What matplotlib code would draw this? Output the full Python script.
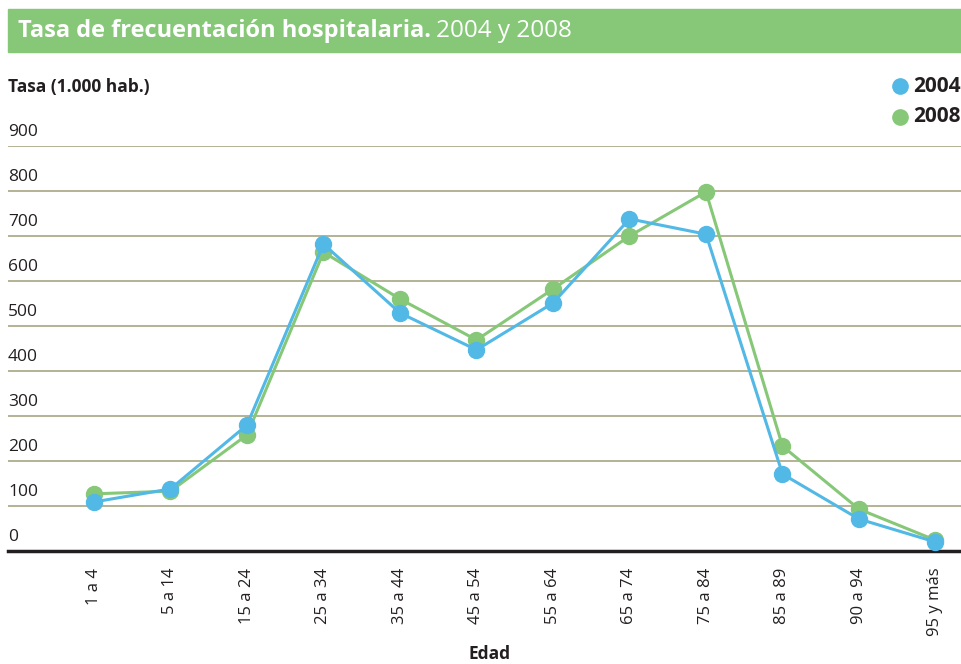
import matplotlib.pyplot as plt
from matplotlib.patches import Rectangle

# --- data ---
edades = ["1 a 4", "5 a 14", "15 a 24", "25 a 34", "35 a 44", "45 a 54",
          "55 a 64", "65 a 74", "75 a 84", "85 a 89", "90 a 94", "95 y más"]
tasa_2004 = [109, 138, 280, 682, 529, 447, 551, 738, 704, 171, 71, 20]
tasa_2008 = [127, 133, 258, 664, 560, 469, 582, 700, 798, 233, 93, 24]
y_ticks = [0, 100, 200, 300, 400, 500, 600, 700, 800, 900]

AZUL = "#52b8e6"
VERDE = "#86c878"
TXT = "#231f20"
GRID = "#aeac8c"

plt.rcParams['font.family'] = ['Open Sans', 'DejaVu Sans']

W, H = 962, 664
fig = plt.figure(figsize=(W / 100, H / 100), dpi=100)

# title banner
fig.patches.append(Rectangle((8 / W, 1 - 52 / H), 1, 43 / H,
                             transform=fig.transFigure, color=VERDE, zorder=0))
t1 = fig.text(18 / W, 1 - 31 / H, "Tasa de frecuentación hospitalaria.",
              color="white", fontsize=17, fontweight="bold", va="center")
fig.canvas.draw()
bb = t1.get_window_extent()
fig.text(bb.x1 / W + 5 / W, 1 - 31 / H, "2004 y 2008", color="white",
         fontsize=17.5, va="center")

# axes: x from 8 px to right edge, y 0 at 551 px, 900 at 146 px
x0, x1 = 8, W
ax = fig.add_axes([x0 / W, 1 - 551 / H, (x1 - x0) / W, (551 - 146) / H])
ax.set_ylim(0, 900)
step = 76.5
ax.set_xlim((x0 - 94) / step, (x1 - 94) / step)

xs = list(range(len(edades)))
ax.plot(xs, tasa_2008, color=VERDE, lw=2.2, marker="o", ms=11.5,
        zorder=3, clip_on=False)
ax.plot(xs, tasa_2004, color=AZUL, lw=2.2, marker="o", ms=11.5,
        zorder=4, clip_on=False)

for v in y_ticks[1:]:
    ax.axhline(v, color=GRID, lw=1.3, zorder=1)
for v in y_ticks:
    ax.text(0, v + 13, str(v), transform=ax.get_yaxis_transform(),
            fontsize=12.5, color=TXT, va="bottom", ha="left")

for s in ["top", "right", "left"]:
    ax.spines[s].set_visible(False)
ax.spines["bottom"].set_color(TXT)
ax.spines["bottom"].set_linewidth(2.5)
ax.set_yticks([])
ax.set_xticks(xs)
ax.set_xticklabels(edades, rotation=90, fontsize=12, color=TXT,
                   va="top", ha="center")
ax.tick_params(axis="x", length=0, pad=12)

fig.text(490 / W, 1 - 654 / H, "Edad", fontsize=12.5, fontweight="bold",
         color=TXT, ha="center", va="center")
fig.text(8 / W, 1 - 87 / H, "Tasa (1.000 hab.)", fontsize=12.5,
         fontweight="bold", color=TXT, va="center")

# legend at the top right, kept inside the figure
for yy, col, lab in [(86, AZUL, "2004"), (117, VERDE, "2008")]:
    fig.lines.append(plt.Line2D([900 / W], [1 - yy / H], marker="o", ms=11,
                                color=col, transform=fig.transFigure))
    fig.text(913 / W, 1 - yy / H, lab, fontsize=15, fontweight="bold",
             color=TXT, va="center")

fig.savefig("out.png", dpi=100)
